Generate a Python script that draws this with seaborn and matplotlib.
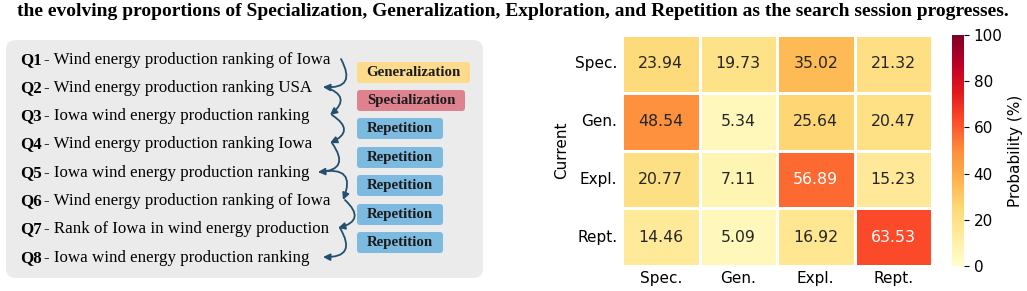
import numpy as np
import pandas as pd
import seaborn as sns
import matplotlib.pyplot as plt
from matplotlib.patches import FancyBboxPatch

# heatmap data
states = ["Spec.", "Gen.", "Expl.", "Rept."]
row_spec = [23.94, 19.73, 35.02, 21.32]
row_gen = [48.54, 5.34, 25.64, 20.47]
row_expl = [20.77, 7.11, 56.89, 15.23]
row_rept = [14.46, 5.09, 16.92, 63.53]

# left panel: query session
q_ids = ["Q1", "Q2", "Q3", "Q4", "Q5", "Q6", "Q7", "Q8"]
q_texts = [
    "Wind energy production ranking of Iowa",
    "Wind energy production ranking USA",
    "Iowa wind energy production ranking",
    "Wind energy production ranking Iowa",
    "Iowa wind energy production ranking",
    "Wind energy production ranking of Iowa",
    "Rank of Iowa in wind energy production",
    "Iowa wind energy production ranking",
]
transitions = ["Generalization", "Specialization", "Repetition", "Repetition",
               "Repetition", "Repetition", "Repetition"]
trans_colors = {"Generalization": "#fddb8c", "Specialization": "#de8290",
                "Repetition": "#7dbadf"}

caption = ("the evolving proportions of Specialization, Generalization, "
           "Exploration, and Repetition as the search session progresses.")

df = pd.DataFrame([row_spec, row_gen, row_expl, row_rept], index=states, columns=states)

fig = plt.figure(figsize=(10.27, 2.91), dpi=100)

# overlay axes in pixel coordinates
bg = fig.add_axes([0, 0, 1, 1])
bg.set_xlim(0, 1027)
bg.set_ylim(291, 0)
bg.axis("off")

serif = "Liberation Serif"
bg.text(17, 12, caption, fontsize=14, fontweight="bold", family=serif, va="center", ha="left")

bg.add_patch(FancyBboxPatch((6, 40), 477, 238, boxstyle="round,pad=0,rounding_size=10",
                            fc="#ebebeb", ec="none"))

row_y = [60, 88, 116, 144, 173, 201, 229, 258]
for i, (qid, t) in enumerate(zip(q_ids, q_texts)):
    bg.text(20, row_y[i], qid, fontsize=12.2, fontweight="bold", family=serif, va="center")
    bg.text(44, row_y[i], "- " + t, fontsize=12.2, family=serif, va="center")

# curved arrows between queries (pixel positions of tails / heads)
arrow_x = [339, 323, 330, 330, 318, 343, 338, 323]
for i in range(len(q_ids) - 1):
    bg.annotate("", xy=(arrow_x[i + 1], row_y[i + 1] - 1),
                xytext=(arrow_x[i] + 2, row_y[i] - 1),
                arrowprops=dict(arrowstyle="-|>", color="#23506e", lw=1.3,
                                mutation_scale=10, shrinkA=0, shrinkB=0,
                                connectionstyle="arc3,rad=-0.9"))

# transition labels
box_y = [62, 90, 118, 147, 175, 204, 232]
for i, lab in enumerate(transitions):
    w = {"Generalization": 113, "Specialization": 108, "Repetition": 86}[lab]
    bg.add_patch(FancyBboxPatch((357, box_y[i]), w, 21, boxstyle="round,pad=0,rounding_size=3",
                                fc=trans_colors[lab], ec="none"))
    bg.text(357 + w / 2, box_y[i] + 10.5, lab, fontsize=10.7, fontweight="bold",
            family=serif, ha="center", va="center", color="#1a1a1a")

# heatmap
ax = fig.add_axes([622 / 1027, 1 - 266 / 291, 310 / 1027, 231 / 291])
cax = fig.add_axes([952 / 1027, 1 - 266 / 291, 12 / 1027, 231 / 291])
sns.heatmap(df, annot=True, fmt=".2f", cmap="YlOrRd", vmin=0, vmax=100,
            linewidths=1, linecolor="white", ax=ax, cbar_ax=cax,
            annot_kws={"fontsize": 11.3},
            cbar_kws={"label": "Probability (%)"})
ax.set_ylabel("Current", fontsize=11)
ax.tick_params(length=0, labelsize=11)
ax.set_yticklabels(states, rotation=0)
cax.tick_params(labelsize=11)
cax.yaxis.label.set_size(11)

fig.savefig("out.png", dpi=100)
